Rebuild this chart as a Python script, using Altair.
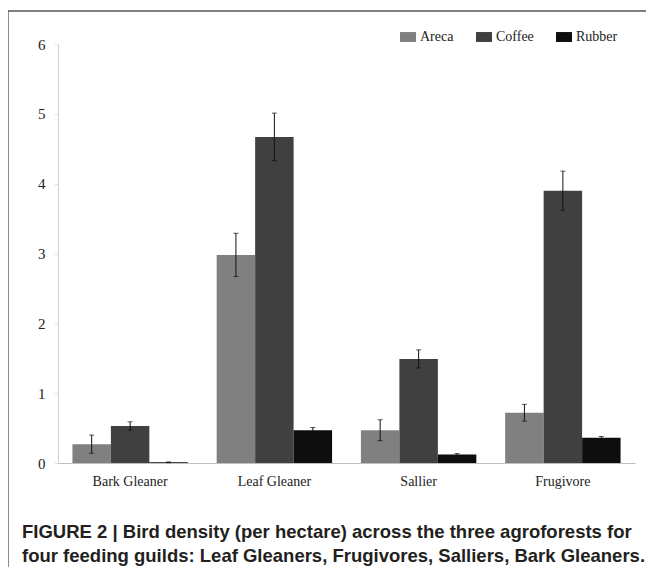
import altair as alt
import pandas as pd

guilds = ["Bark Gleaner", "Leaf Gleaner", "Sallier", "Frugivore"]
systems = ["Areca", "Coffee", "Rubber"]
areca = [0.27, 2.98, 0.47, 0.72]
areca_err = [0.13, 0.31, 0.15, 0.12]
coffee = [0.53, 4.67, 1.49, 3.90]
coffee_err = [0.06, 0.34, 0.13, 0.28]
rubber = [0.01, 0.47, 0.12, 0.36]
rubber_err = [0.005, 0.04, 0.015, 0.02]
colors = ["#808080", "#404040", "#0d0d0d"]
caption = [
    "FIGURE 2 | Bird density (per hectare) across the three agroforests for",
    "four feeding guilds: Leaf Gleaners, Frugivores, Salliers, Bark Gleaners.",
]

SERIF = "Liberation Serif, Times New Roman, serif"

rows = []
for s, vals, errs in zip(systems, [areca, coffee, rubber], [areca_err, coffee_err, rubber_err]):
    for g, v, e in zip(guilds, vals, errs):
        rows.append({"guild": g, "system": s, "density": v, "lo": v - e, "hi": v + e})
df = pd.DataFrame(rows)

xoff = alt.XOffset("system:N", sort=systems, scale=alt.Scale(paddingInner=0, paddingOuter=0))
xax = alt.Axis(labelAngle=0, ticks=False, domainColor="#bfbfbf",
               labelFont=SERIF, labelFontSize=14,
               labelColor="#222222", labelPadding=11)
yax = alt.Axis(values=[0, 1, 2, 3, 4, 5, 6], format="d", grid=False,
               domainColor="#d0d0d0",
               tickColor="#e6e6e6", tickSize=4, labelPadding=9,
               labelFont=SERIF, labelFontSize=15,
               labelColor="#222222")
xs = alt.Scale(paddingInner=0.2, paddingOuter=0.1)
ys = alt.Scale(domain=[0, 6], nice=False)

base = alt.Chart(df)

bars = base.mark_bar().encode(
    x=alt.X("guild:N", sort=guilds, title=None, scale=xs, axis=xax),
    xOffset=xoff,
    y=alt.Y("density:Q", title=None, scale=ys, axis=yax),
    color=alt.Color("system:N", sort=systems,
                    scale=alt.Scale(domain=systems, range=colors),
                    legend=alt.Legend(title=None, orient="none", direction="horizontal",
                                      legendX=342, legendY=-15,
                                      symbolType="M-1,-0.62L1,-0.62L1,0.62L-1,0.62Z",
                                      symbolSize=256, symbolStrokeWidth=0,
                                      labelFont=SERIF, labelFontSize=14,
                                      labelColor="#222222", columnPadding=22,
                                      labelOffset=4)),
)

err = base.mark_rule(color="#111111", strokeWidth=1).encode(
    x=alt.X("guild:N", sort=guilds, title=None, scale=xs, axis=xax),
    xOffset=xoff,
    y=alt.Y("lo:Q", title=None, scale=ys, axis=yax),
    y2="hi:Q",
)
cap_hi = base.mark_tick(color="#111111", thickness=1, size=5, orient="horizontal").encode(
    x=alt.X("guild:N", sort=guilds, title=None, scale=xs, axis=xax), xOffset=xoff,
    y=alt.Y("hi:Q", title=None, scale=ys, axis=yax))
cap_lo = base.mark_tick(color="#111111", thickness=1, size=5, orient="horizontal").encode(
    x=alt.X("guild:N", sort=guilds, title=None, scale=xs, axis=xax), xOffset=xoff,
    y=alt.Y("lo:Q", title=None, scale=ys, axis=yax))

one = alt.Chart(pd.DataFrame({"k": [0]}))
frame_left = one.mark_rule(color="#666666", strokeWidth=1.5).encode(
    x=alt.value(-50), y=alt.value(-33), y2=alt.value(531))
frame_top = one.mark_rule(color="#555555", strokeWidth=1.5).encode(
    x=alt.value(-50), x2=alt.value(600), y=alt.value(-33))

cap_df = pd.DataFrame({"line": caption, "row": [0, 1]})
cap_style = dict(align="left", baseline="alphabetic", font="Liberation Sans", fontSize=18.5,
                 fontWeight="bold", color="#231f20")
cap_text = alt.Chart(cap_df).mark_text(**cap_style).encode(
    text="line:N", x=alt.value(-36), y=alt.value(494),
).transform_filter("datum.row == 0")
cap_text2 = alt.Chart(cap_df).mark_text(**cap_style).encode(
    text="line:N", x=alt.value(-36), y=alt.value(518),
).transform_filter("datum.row == 1")

chart = alt.layer(bars, err, cap_hi, cap_lo, frame_left, frame_top, cap_text, cap_text2).properties(
    width=577, height=419,
    autosize=alt.AutoSizeParams(type="none"),
    padding={"left": 50, "top": 36, "right": 11, "bottom": 104},
).configure_view(stroke=None).configure_axis(labelFont=SERIF).configure_legend(labelFont=SERIF)

chart.save("out.html", embed_options={"renderer": "svg", "actions": False})
